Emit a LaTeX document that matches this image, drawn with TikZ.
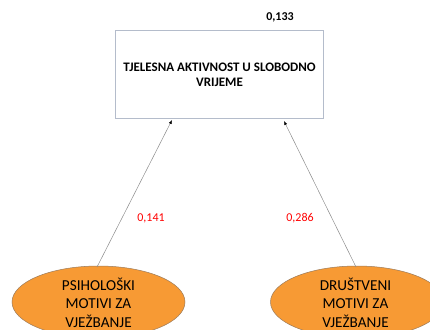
\documentclass[tikz,border=0pt]{standalone}
\usepackage{fontspec}
\setmainfont{Carlito}
\usetikzlibrary{shapes.geometric,arrows.meta}
\definecolor{orangefill}{HTML}{F79A34}
\definecolor{orangeedge}{HTML}{9A7A5A}
\definecolor{boxedge}{HTML}{B4BCCB}
\definecolor{linegray}{HTML}{8C8C8C}
\definecolor{labred}{HTML}{FF0000}
\tikzset{
  x=1pt, y=-1pt,
  targetbox/.style={draw=boxedge, line width=0.6pt, fill=white, minimum width=208pt, minimum height=88pt, inner sep=0pt},
  titletext/.style={font=\fontsize{13}{15.5}\selectfont\bfseries, align=center, inner sep=0pt},
  motive/.style={ellipse, draw=orangeedge, line width=0.5pt, fill=orangefill, minimum width=173pt, minimum height=72pt, inner sep=0pt},
  motivetext/.style={font=\fontsize{15.2}{18.5}\selectfont, align=center, inner sep=0pt},
  path/.style={draw=linegray, line width=0.5pt, -{Latex[length=4pt,width=3pt,color=black]}},
  coef/.style={text=labred, font=\fontsize{12}{14}\selectfont},
}
\begin{document}
\begin{tikzpicture}
\useasboundingbox (0,0) rectangle (430,329);
\node[targetbox] (t) at (219,74) {};
\node[titletext] (tt) at (219.5,75) {TJELESNA AKTIVNOST U SLOBODNO\\VRIJEME};
\node[font=\fontsize{12}{14}\selectfont\bfseries] (r2) at (280,17) {0,133};
\node[motive] (p) at (98.5,302) {};
\node[motivetext] (pt) at (98.5,302.5) {PSIHOLOŠKI\\MOTIVI ZA\\VJEŽBANJE};
\node[motive] (d) at (357,302) {};
\node[motivetext] (dt) at (355.5,302.5) {DRUŠTVENI\\MOTIVI ZA\\VJEŽBANJE};
\coordinate (pa) at (172,120);
\coordinate (da) at (284,121);
\coordinate (ps) at (97,267);
\coordinate (ds) at (356,267);
\draw[path] (ps) -- (pa);
\draw[path] (ds) -- (da);
\node[coef] (c1) at (151,218) {0,141};
\node[coef] (c2) at (300,218) {0,286};
\end{tikzpicture}
\end{document}
